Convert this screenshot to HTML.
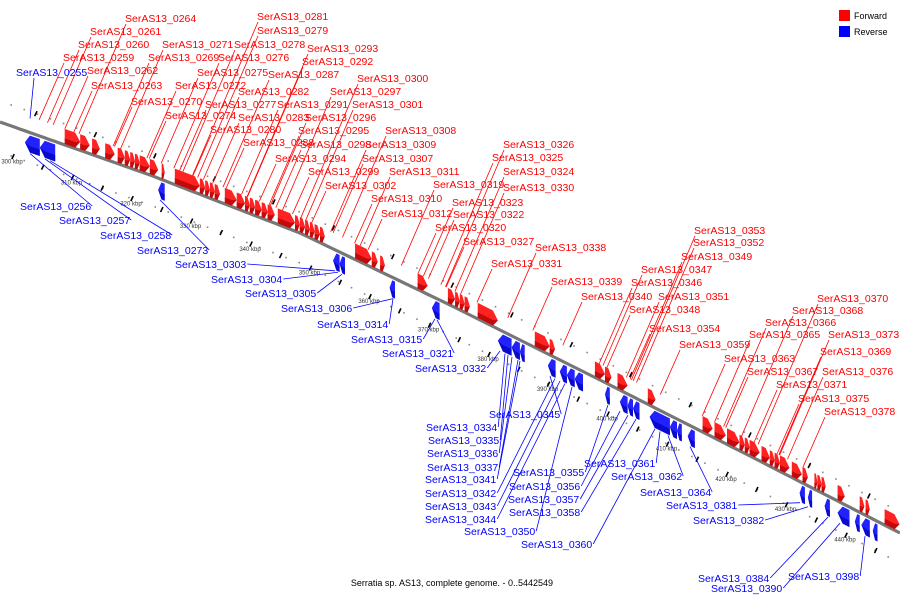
<!DOCTYPE html>
<html><head><meta charset="utf-8"><style>
html,body{margin:0;padding:0;background:#fff;}
svg{display:block;font-family:"Liberation Sans","DejaVu Sans",sans-serif;}
</style></head><body>
<svg id="chart" width="900" height="600" viewBox="0 0 900 600">
<g id="tracks"></g>
<g id="backbone"></g>
<g id="genes"></g>
<g id="leaders"></g>
<g id="labels"></g>
<g>
<rect x="839" y="10" width="11" height="11" fill="#f00"/>
<text x="854" y="19" font-size="9" fill="#000">Forward</text>
<rect x="839" y="26" width="11" height="11" fill="#00f"/>
<text x="854" y="35" font-size="9" fill="#000">Reverse</text>
</g>
<text x="452" y="586" font-size="9" text-anchor="middle" fill="#000">Serratia sp. AS13, complete genome. - 0..5442549</text>
</svg>
<script>
const fwdStart=[309.2,311.8,313.8,316.0,318.1,319.3,320.2,321.0,321.8,323.5,325.5,327.7,331.9,332.8,333.6,334.4,336.1,338.1,339.5,340.3,341.2,342.3,343.3,345.0,347.9,348.7,349.6,350.4,351.2,352.1,358.0,360.8,362.2,368.5,373.6,374.8,375.6,376.4,378.6,388.2,390.7,398.3,400.0,402.1,407.2,416.4,418.4,420.5,422.6,423.5,424.3,426.3,427.7,428.5,429.4,431.4,433.2,435.2,435.7,436.4,439.1,442.8,443.8,447.0];
const fwdEnd=[311.8,313.4,315.1,317.6,319.3,320.2,321.0,321.8,323.5,324.9,326.0,331.9,332.8,333.6,334.4,335.3,338.1,339.5,340.3,341.2,342.3,343.3,344.5,347.9,348.7,349.6,350.4,351.2,352.1,352.9,360.8,361.8,363.0,370.2,374.8,375.6,376.4,377.3,382.0,390.7,391.6,400.0,401.1,403.8,408.5,418.1,420.3,422.6,423.5,424.3,426.0,427.7,428.5,429.4,431.0,433.1,434.1,435.7,436.4,437.1,440.3,443.6,444.5,449.5];
const revStart=[302.5,305.0,324.9,354.3,355.4,363.8,370.9,382.0,384.3,385.7,390.4,392.4,393.6,394.9,400.0,402.5,403.8,404.7,407.5,410.9,412.1,413.9,432.7,434.1,436.9,439.1,442.0,443.1,445.0];
const revEnd=[305.0,307.6,326.0,355.4,356.3,364.7,372.2,384.3,385.7,386.5,391.7,393.6,394.9,396.3,400.8,403.8,404.7,405.8,410.9,412.1,412.9,415.1,433.6,434.8,437.8,441.1,442.8,444.5,445.8];
const tickKbp=[300,310,320,330,340,350,360,370,380,390,400,410,420,430,440];
const tickLabels=["300 kbp","310 kbp","320 kbp","330 kbp","340 kbp","350 kbp","360 kbp","370 kbp","380 kbp","390 kbp","400 kbp","410 kbp","420 kbp","430 kbp","440 kbp"];
const fwdNames=["0264","0281","0261","0279","0260","0271","0278","0293","0259","0269","0276","0292","0262","0275","0287","0300","0263","0272","0282","0297","0270","0277","0291","0301","0274","0283","0296","0308","0280","0295","0288","0298","0309","0294","0307","0326","0325","0299","0311","0324","0319","0302","0330","0310","0323","0312","0322","0320","0327","0338","0331","0339","0353","0352","0349","0347","0346","0340","0351","0348","0354","0370","0368","0366","0373","0365","0369","0359","0363","0367","0376","0371","0375","0378"];
const fwdLX=[125,257,90,257,78,162,234,307,63,148,218,302,87,197,268,357,91,175,238,330,131,205,277,352,165,238,305,385,210,298,243,300,365,275,362,503,492,308,389,503,433,325,503,371,452,381,453,435,463,535,491,551,694,693,681,641,631,581,658,629,649,817,792,765,828,749,820,679,724,747,822,776,798,824];
const fwdLY=[22,20,35,34,48,48,48,52,61,61,61,65,74,76,78,82,89,89,95,95,105,108,108,108,119,121,121,134,133,134,146,148,148,162,162,148,161,175,175,175,188,189,191,202,206,217,218,231,245,251,267,285,234,246,260,273,286,300,300,313,332,302,314,326,338,338,355,348,362,375,375,388,402,415];
const revNames=["0255","0256","0257","0258","0273","0303","0304","0305","0306","0314","0315","0321","0332","0345","0334","0335","0336","0337","0341","0342","0343","0344","0350","0355","0356","0357","0358","0360","0361","0362","0364","0381","0382","0384","0390","0398"];
const revLX=[16,20,59,100,137,175,211,245,281,317,351,382,415,489,426,428,427,427,425,425,425,425,464,513,509,508,509,521,584,611,640,666,693,698,711,788];
const revLY=[76,210,224,239,254,268,283,297,312,328,343,357,372,418,431,444,457,471,483,497,510,523,535,476,490,503,516,548,467,480,496,509,524,582,592,580];
const revTarget=[30,30,45,50,160,335,338,342,393,393,435,437,500,550,505,508,512,518,520,555,560,565,572,608,620,628,636,655,660,668,690,800,808,828,840,865];

const NS="http://www.w3.org/2000/svg";
const CX=[0,150,300,450,600,750,900],CY=[122,175,233,305,380,456,533];
function lineY(x){for(let i=0;i<CX.length-1;i++){if(x<=CX[i+1]||i==CX.length-2){const t=(x-CX[i])/(CX[i+1]-CX[i]);return CY[i]+t*(CY[i+1]-CY[i]);}}}
function kx(k){return 10+(k-300)*5.95;}
function mk(tag,attrs,parent){const e=document.createElementNS(NS,tag);for(const a in attrs)e.setAttribute(a,attrs[a]);parent.appendChild(e);return e;}
const gT=document.getElementById('tracks'),gB=document.getElementById('backbone'),gG=document.getElementById('genes'),gL=document.getElementById('leaders'),gX=document.getElementById('labels');

let d="";for(let x=0;x<=900;x+=5)d+=(x?"L":"M")+x+","+lineY(x).toFixed(1);
let bb=mk('path',{d:d,stroke:"#777",'stroke-width':3.2,fill:"none"},gB);



for(let k=298;k<=450;k+=2.2){const x=kx(k);[-21,30].forEach(o=>{
 const c=mk('rect',{x:x-0.8,y:lineY(x)+o-0.8,width:1.6,height:1.6,fill:"#888"},gT);
 
 });}
for(let k=300;k<=445;k+=5){const x=kx(k)+3,y=lineY(x)+30;
 const t=mk('line',{x1:x-1.2,y1:y+2.5,x2:x+1.2,y2:y-2.5,stroke:"#000",'stroke-width':1.6},gT);
 
 }
for(let k=303;k<=445;k+=10){const x=kx(k)+8,y=lineY(x)-21;
 const t=mk('line',{x1:x-1.2,y1:y+2.5,x2:x+1.2,y2:y-2.5,stroke:"#000",'stroke-width':1.6},gT);
 
 }
tickKbp.forEach((k,i)=>{const x=kx(k);
 const t=mk('text',{x:x+2,y:lineY(x)+38,'font-size':6,'text-anchor':'middle',fill:"#333"},gT);
 t.textContent=tickLabels[i];
 
 });

function gene(k1,k2,fwd){
 const x1=kx(k1),x2=kx(k2),w=x2-x1,ah=Math.min(5,w*0.5);
 const o1=fwd?-16:3,o2=fwd?-1:20,om=(o1+o2)/2;
 let pts,dk;
 if(fwd){const xa=x2-ah;
  pts=[[x1,lineY(x1)+o1],[xa,lineY(xa)+o1],[x2,lineY(x2)+om],[xa,lineY(xa)+o2],[x1,lineY(x1)+o2]];
  dk=[[x1,lineY(x1)+om+2],[xa,lineY(xa)+om+2],[x2,lineY(x2)+om],[xa,lineY(xa)+o2],[x1,lineY(x1)+o2]];}
 else{const xa=x1+ah;
  pts=[[x1,lineY(x1)+om],[xa,lineY(xa)+o1],[x2,lineY(x2)+o1],[x2,lineY(x2)+o2],[xa,lineY(xa)+o2]];
  dk=[[x1,lineY(x1)+om],[xa,lineY(xa)+om+2],[x2,lineY(x2)+om+2],[x2,lineY(x2)+o2],[xa,lineY(xa)+o2]];}
 const p=mk('polygon',{points:pts.map(q=>q[0].toFixed(1)+","+q[1].toFixed(1)).join(" "),fill:fwd?"#f22":"#22f"},gG);
 
 
 const q=mk('polygon',{points:dk.map(q=>q[0].toFixed(1)+","+q[1].toFixed(1)).join(" "),fill:fwd?"#a00":"#00b",opacity:0.7},gG);
 
 
}
fwdStart.forEach((s,i)=>gene(s,fwdEnd[i],true));
revStart.forEach((s,i)=>gene(s,revEnd[i],false));

fwdNames.forEach((n,i)=>{const lx=fwdLX[i],ly=fwdLY[i];
 const t=mk('text',{x:lx,y:ly,'font-size':10.5,fill:"#f00"},gX);t.textContent="SerAS13_"+n;
 
 
 let tx=lx,ty;for(let j=0;j<8;j++){ty=lineY(tx)-16;tx=lx-0.42*(ty-ly-2);}
 const l=mk('line',{x1:lx+1,y1:ly+2,x2:tx,y2:ty,stroke:"#f00",'stroke-width':0.8},gL);
 
 });
revNames.forEach((n,i)=>{const lx=revLX[i],ly=revLY[i];
 const t=mk('text',{x:lx,y:ly,'font-size':10.5,fill:"#00f"},gX);t.textContent="SerAS13_"+n;
 
 
 const w=t.getComputedTextLength?t.getComputedTextLength():68;
 const tx=revTarget[i],ty=(i==0)?lineY(tx)-14:lineY(tx)+21;
 const sy=(i==0)?ly+2:ly-4;
 const l=mk('line',{x1:i==0?lx+18:lx+w+1,y1:sy,x2:tx,y2:ty,stroke:"#00f",'stroke-width':0.8},gL);
 
 });
</script>
</body></html>
